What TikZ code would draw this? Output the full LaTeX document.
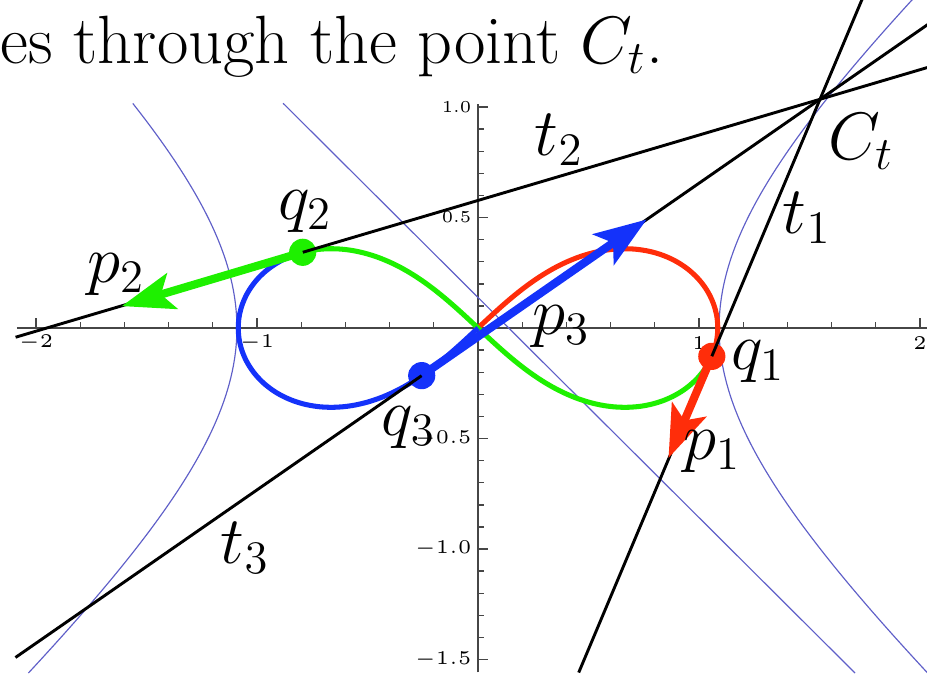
\documentclass[tikz,border=0pt]{standalone}
\usetikzlibrary{arrows.meta,calc}
\definecolor{kurvamerah}{RGB}{255,45,10}
\definecolor{kurvahijau}{RGB}{30,240,0}
\definecolor{kurvabiru}{RGB}{20,50,250}
\definecolor{garisbiru}{RGB}{95,95,200}
\definecolor{abusumbu}{RGB}{70,70,70}

\begin{document}
\begin{tikzpicture}[x=2cm,y=2cm,
    declare function={ex(\t)=1.085*cos(\t)/(1+sin(\t)*sin(\t));
                      ey(\t)=1.015*sin(\t)*cos(\t)/(1+sin(\t)*sin(\t));
                      hx(\s)=sqrt(1.19+1.21*\s*\s);},
    axisline/.style={abusumbu, line width=0.35pt},
    ticklbl/.style={font=\fontsize{4.3}{5}\selectfont, inner sep=0pt},
    hyp/.style={garisbiru, line width=0.3pt},
    eight/.style={line width=1.3pt},
    tangent/.style={black, line width=0.75pt},
    mom/.style={line width=2.1pt, -{Stealth[length=13.5pt,width=9.5pt,inset=3pt]}},
    lbl/.style={font=\fontsize{16.8}{20}\selectfont, inner sep=0pt}]
        \useasboundingbox (-2.1629,-1.5837) rectangle (2.0317,1.4842);
        \clip (-2.1629,-1.5837) rectangle (2.0317,1.4842);
        % Sumbu
        \draw[axisline] (-2.086,0) -- (2.05,0);
        \draw[axisline] (0,-1.558) -- (0,1.013);
        \foreach \i in {-10,...,10} \draw[axisline] (\i/5,0) -- (\i/5,0.027);
        \foreach \x/\t in {-2/$-2$,-1/$-1$,1/$1$,2/$2$} {
          \draw[axisline] (\x,0) -- (\x,0.045);
          \node[ticklbl] (sx\x) at (\x,-0.068) {\t};
        }
        \foreach \i in {-15,...,10} \draw[axisline] (0,\i/10) -- (0.027,\i/10);
        \foreach \y/\t in {-1.5/$-1.5$,-1/$-1.0$,-0.5/$-0.5$,0.5/0.5,1/1.0} {
          \draw[axisline] (0,\y) -- (0.045,\y);
          \node[ticklbl, anchor=east] (sy\y) at (-0.027,\y) {\t};
        }
        % Kurva biru tipis
        \draw[hyp] plot[domain=-1.561:1.49, samples=80, smooth, variable=\s] ({hx(\s)},\s);
        \draw[hyp] plot[domain=-1.561:1.017, samples=80, smooth, variable=\s] ({-hx(\s)},\s);
        \draw[hyp] (-0.882,1.017) -- (1.706,-1.561);
        % Kurva angka delapan
        \draw[eight, kurvamerah] plot[domain=-7.45:90, samples=80, smooth, variable=\t] ({ex(\t)},{ey(\t)});
        \draw[eight, kurvahijau] plot[domain=-152.5:-7.45, samples=110, smooth, variable=\t] ({ex(\t)},{ey(\t)});
        \draw[eight, kurvabiru] plot[domain=-270:-152.5, samples=90, smooth, variable=\t] ({ex(\t)},{ey(\t)});
        % Titik benda
        \coordinate (q1) at ({ex(-7.45)},{ey(-7.45)});
        \coordinate (q2) at ({ex(-152.5)},{ey(-152.5)});
        \coordinate (q3) at ({ex(115.26)},{ey(115.26)});
        \coordinate (Ct) at (1.5475,1.035);
        \fill[kurvamerah] (q1) circle[radius=3.5pt];
        \fill[kurvahijau] (q2) circle[radius=3.5pt];
        \fill[kurvabiru] (q3) circle[radius=3.5pt];
        % Garis singgung
        \draw[tangent] ($(Ct)!2.23!(q1)$) -- ($(Ct)!-0.5!(q1)$);
        \draw[tangent] ($(Ct)!1.555!(q2)$) -- ($(Ct)!-0.5!(q2)$);
        \draw[tangent] ($(Ct)!2.02!(q3)$) -- ($(Ct)!-0.5!(q3)$);
        % Vektor momentum
        \coordinate (p1) at (0.862,-0.588);
        \coordinate (p2) at (-1.612,0.099);
        \coordinate (p3) at (0.763,0.491);
        \draw[mom, kurvamerah] (q1) -- (p1);
        \draw[mom, kurvahijau] (q2) -- (p2);
        \draw[mom, kurvabiru] (q3) -- (p3);
        % Label
        \node[lbl] (lq1) at (1.267,-0.154) {$q_1$};
        \node[lbl] (lq2) at (-0.783,0.525) {$q_2$};
        \node[lbl] (lq3) at (-0.314,-0.452) {$q_3$};
        \node[lbl] (lp1) at (1.059,-0.561) {$p_1$};
        \node[lbl] (lp2) at (-1.638,0.240) {$p_2$};
        \node[lbl] (lp3) at (0.376,0.005) {$p_3$};
        \node[lbl] (lt1) at (1.489,0.498) {$t_1$};
        \node[lbl] (lt2) at (0.367,0.851) {$t_2$};
        \node[lbl] (lt3) at (-1.054,-0.995) {$t_3$};
        \node[lbl] (lCt) at (1.733,0.842) {$C_t$};
        \node[lbl, font=\fontsize{17.6}{21}\selectfont, anchor=base west] (judul) at (-2.163,1.198) {es through the point $C_t$.};
      \end{tikzpicture}
\end{document}
